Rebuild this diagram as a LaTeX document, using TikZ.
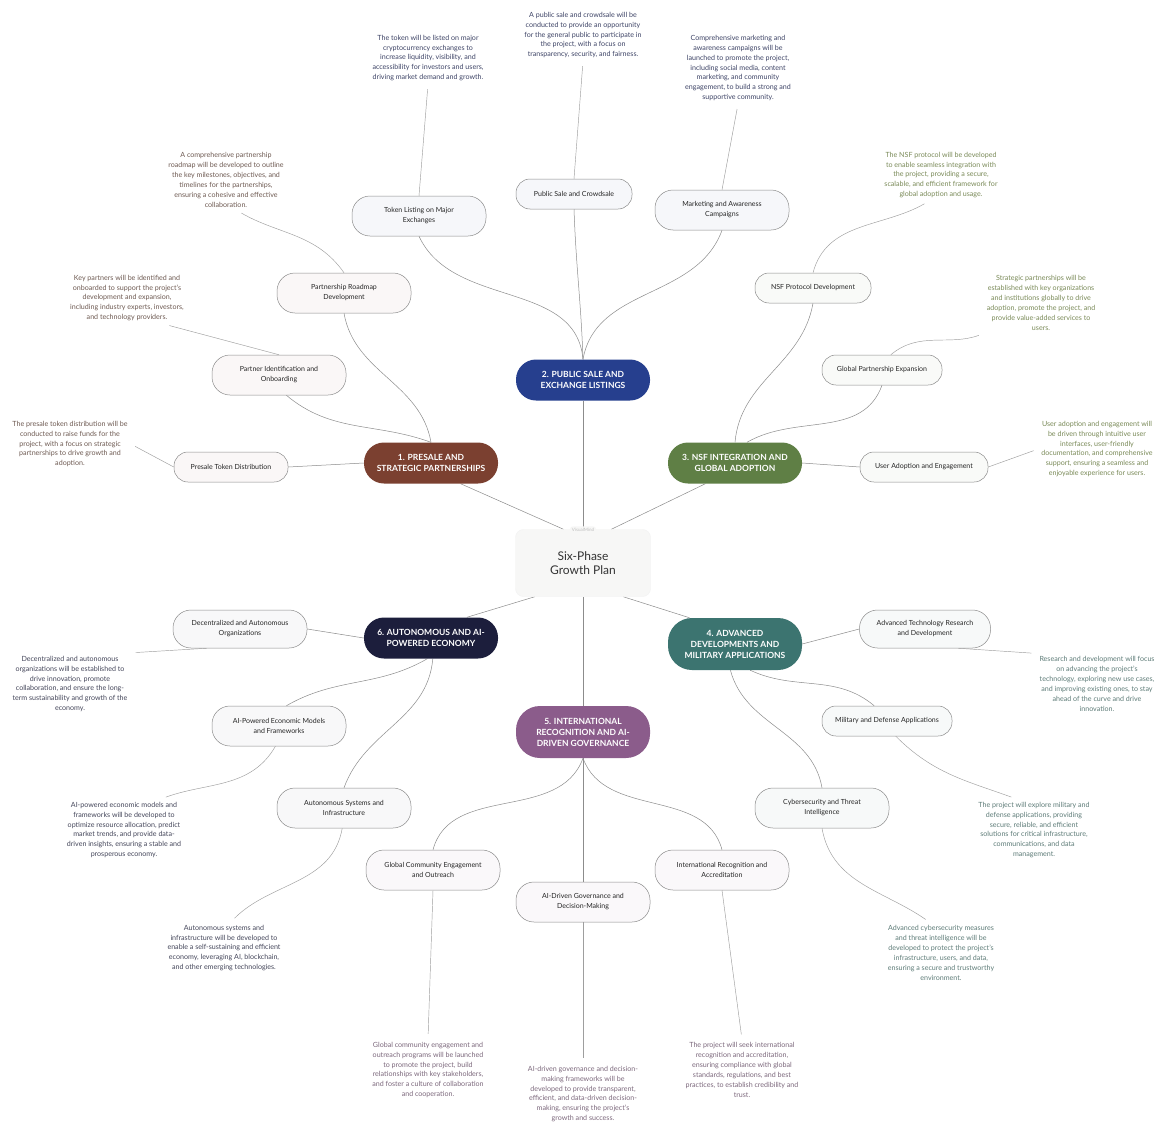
\documentclass[tikz,border=0pt]{standalone}
\usepackage{fontspec}
\setmainfont{Lato}
\usepackage{xcolor}
\usepackage{tikz}
\usetikzlibrary{positioning,backgrounds}
\definecolor{GPRoot}{HTML}{F7F7F6}
\definecolor{GPBrown}{HTML}{7B4030}
\definecolor{GPBlue}{HTML}{263F8E}
\definecolor{GPGreen}{HTML}{5F7F45}
\definecolor{GPTeal}{HTML}{3C7470}
\definecolor{GPPurple}{HTML}{8B5C8B}
\definecolor{GPNavy}{HTML}{1C1E3C}
\definecolor{GPBrownTxt}{HTML}{6E5A52}
\definecolor{GPBlueTxt}{HTML}{3E4466}
\definecolor{GPGreenTxt}{HTML}{7A8A58}
\definecolor{GPTealTxt}{HTML}{5E7C78}
\definecolor{GPPurpleTxt}{HTML}{7C687C}
\definecolor{GPNavyTxt}{HTML}{44465A}

\begin{document}
\begin{tikzpicture}[
  x=1pt,
  y=-1pt,
  root/.style={
    rounded corners=8pt,
    draw=black!5,
    fill=GPRoot,
    text=black!80,
    minimum width=135pt,
    minimum height=67pt,
    align=center,
    font=\fontsize{12}{14}\selectfont
  },
  brand/.style={
    rounded corners=3pt,
    fill=GPRoot,
    text=black!25,
    inner sep=2pt,
    font=\fontsize{4.5}{5}\selectfont
  },
  phase/.style={
    rounded corners=20pt,
    text=white,
    minimum width=134pt,
    minimum height=41pt,
    align=center,
    inner sep=2pt,
    font=\bfseries\fontsize{8.5}{11}\selectfont
  },
  tall/.style={minimum height=52pt, rounded corners=24pt},
  leaf/.style={
    rounded corners=18pt,
    draw=black!45,
    line width=0.5pt,
    text=black!85,
    minimum width=134pt,
    minimum height=40pt,
    align=center,
    inner sep=2pt,
    font=\fontsize{7}{10}\selectfont
  },
  single/.style={minimum height=30pt, rounded corners=14pt},
  note/.style={
    align=center,
    inner sep=3pt,
    font=\fontsize{7.1}{9.9}\selectfont
  },
  branch/.style={draw=black!45, line width=0.5pt},
  twig/.style={draw=black!38, line width=0.45pt, shorten >=5pt},
]
\useasboundingbox (0,0) rectangle (1156,1124);

\node[root] (root) at (583,563) {Six-Phase\\Growth Plan};
\node[brand] (root-brand) at (583,530) {VisualMind};

% phase 2
\node[phase,fill=GPBlue] (public) at (583,380) {2. PUBLIC SALE AND\\EXCHANGE LISTINGS};
\node[leaf,fill=GPBlue!4] (public-a) at (419,216) {Token Listing on Major\\Exchanges};
\node[leaf,single,fill=GPBlue!4,minimum width=116pt] (public-b) at (574,194) {Public Sale and Crowdsale};
\node[leaf,fill=GPBlue!4] (public-c) at (722,210) {Marketing and Awareness\\Campaigns};
\node[note,text=GPBlueTxt] (public-a-txt) at (428,58) {The token will be listed on major\\cryptocurrency exchanges to\\increase liquidity, visibility, and\\accessibility for investors and users,\\driving market demand and growth.};
\node[note,text=GPBlueTxt] (public-b-txt) at (583,35) {A public sale and crowdsale will be\\conducted to provide an opportunity\\for the general public to participate in\\the project, with a focus on\\transparency, security, and fairness.};
\node[note,text=GPBlueTxt] (public-c-txt) at (738,68) {Comprehensive marketing and\\awareness campaigns will be\\launched to promote the project,\\including social media, content\\marketing, and community\\engagement, to build a strong and\\supportive community.};

% phase 1
\node[phase,fill=GPBrown] (presale) at (431,463) {1. PRESALE AND\\STRATEGIC PARTNERSHIPS};
\node[leaf,fill=GPBrown!4] (presale-a) at (344,293) {Partnership Roadmap\\Development};
\node[leaf,fill=GPBrown!4] (presale-b) at (279,375) {Partner Identification and\\Onboarding};
\node[leaf,single,fill=GPBrown!4,minimum width=114pt] (presale-c) at (231,467) {Presale Token Distribution};
\node[note,text=GPBrownTxt] (presale-a-txt) at (226,180) {A comprehensive partnership\\roadmap will be developed to outline\\the key milestones, objectives, and\\timelines for the partnerships,\\ensuring a cohesive and effective\\collaboration.};
\node[note,text=GPBrownTxt] (presale-b-txt) at (127,298) {Key partners will be identified and\\onboarded to support the project's\\development and expansion,\\including industry experts, investors,\\and technology providers.};
\node[note,text=GPBrownTxt] (presale-c-txt) at (70,444) {The presale token distribution will be\\conducted to raise funds for the\\project, with a focus on strategic\\partnerships to drive growth and\\adoption.};

% phase 3
\node[phase,fill=GPGreen] (nsf) at (735,463) {3. NSF INTEGRATION AND\\GLOBAL ADOPTION};
\node[leaf,single,fill=GPGreen!4,minimum width=116pt] (nsf-a) at (813,288) {NSF Protocol Development};
\node[leaf,single,fill=GPGreen!4,minimum width=120pt] (nsf-b) at (882,370) {Global Partnership Expansion};
\node[leaf,single,fill=GPGreen!4,minimum width=128pt] (nsf-c) at (924,467) {User Adoption and Engagement};
\node[note,text=GPGreenTxt] (nsf-a-txt) at (941,175) {The NSF protocol will be developed\\to enable seamless integration with\\the project, providing a secure,\\scalable, and efficient framework for\\global adoption and usage.};
\node[note,text=GPGreenTxt] (nsf-b-txt) at (1041,303) {Strategic partnerships will be\\established with key organizations\\and institutions globally to drive\\adoption, promote the project, and\\provide value-added services to\\users.};
\node[note,text=GPGreenTxt] (nsf-c-txt) at (1097,449) {User adoption and engagement will\\be driven through intuitive user\\interfaces, user-friendly\\documentation, and comprehensive\\support, ensuring a seamless and\\enjoyable experience for users.};

% phase 4
\node[phase,tall,fill=GPTeal] (advanced) at (735,644) {4. ADVANCED\\DEVELOPMENTS AND\\MILITARY APPLICATIONS};
\node[leaf,fill=GPTeal!4,minimum width=131pt,minimum height=38pt] (advanced-a) at (925,629) {Advanced Technology Research\\and Development};
\node[leaf,single,fill=GPTeal!4,minimum width=130pt] (advanced-b) at (887,721) {Military and Defense Applications};
\node[leaf,fill=GPTeal!4] (advanced-c) at (822,808) {Cybersecurity and Threat\\Intelligence};
\node[note,text=GPTealTxt] (advanced-a-txt) at (1097,684) {Research and development will focus\\on advancing the project's\\technology, exploring new use cases,\\and improving existing ones, to stay\\ahead of the curve and drive\\innovation.};
\node[note,text=GPTealTxt] (advanced-b-txt) at (1034,830) {The project will explore military and\\defense applications, providing\\secure, reliable, and efficient\\solutions for critical infrastructure,\\communications, and data\\management.};
\node[note,text=GPTealTxt] (advanced-c-txt) at (941,953) {Advanced cybersecurity measures\\and threat intelligence will be\\developed to protect the project's\\infrastructure, users, and data,\\ensuring a secure and trustworthy\\environment.};

% phase 5
\node[phase,tall,fill=GPPurple] (recognition) at (583,732) {5. INTERNATIONAL\\RECOGNITION AND AI-\\DRIVEN GOVERNANCE};
\node[leaf,fill=GPPurple!4] (recognition-a) at (433,870) {Global Community Engagement\\and Outreach};
\node[leaf,fill=GPPurple!4] (recognition-b) at (583,902) {AI-Driven Governance and\\Decision-Making};
\node[leaf,fill=GPPurple!4] (recognition-c) at (722,870) {International Recognition and\\Accreditation};
\node[note,text=GPPurpleTxt] (recognition-a-txt) at (428,1070) {Global community engagement and\\outreach programs will be launched\\to promote the project, build\\relationships with key stakeholders,\\and foster a culture of collaboration\\and cooperation.};
\node[note,text=GPPurpleTxt] (recognition-b-txt) at (583,1094) {AI-driven governance and decision-\\making frameworks will be\\developed to provide transparent,\\efficient, and data-driven decision-\\making, ensuring the project's\\growth and success.};
\node[note,text=GPPurpleTxt] (recognition-c-txt) at (742,1070) {The project will seek international\\recognition and accreditation,\\ensuring compliance with global\\standards, regulations, and best\\practices, to establish credibility and\\trust.};

% phase 6
\node[phase,fill=GPNavy] (economy) at (431,638) {6. AUTONOMOUS AND AI-\\POWERED ECONOMY};
\node[leaf,fill=GPNavy!3,minimum width=134pt,minimum height=38pt] (economy-a) at (240,629) {Decentralized and Autonomous\\Organizations};
\node[leaf,fill=GPNavy!3] (economy-b) at (279,726) {AI-Powered Economic Models\\and Frameworks};
\node[leaf,fill=GPNavy!3] (economy-c) at (344,808) {Autonomous Systems and\\Infrastructure};
\node[note,text=GPNavyTxt] (economy-a-txt) at (70,684) {Decentralized and autonomous\\organizations will be established to\\drive innovation, promote\\collaboration, and ensure the long-\\term sustainability and growth of the\\economy.};
\node[note,text=GPNavyTxt] (economy-b-txt) at (124,830) {AI-powered economic models and\\frameworks will be developed to\\optimize resource allocation, predict\\market trends, and provide data-\\driven insights, ensuring a stable and\\prosperous economy.};
\node[note,text=GPNavyTxt] (economy-c-txt) at (224,948) {Autonomous systems and\\infrastructure will be developed to\\enable a self-sustaining and efficient\\economy, leveraging AI, blockchain,\\and other emerging technologies.};

\begin{scope}[on background layer]
  \fill[white] (0,0) rectangle (1156,1124);

  \draw[branch] (root) -- (public);
  \draw[branch] (public.north) to[out=95,in=-65] (public-a.south);
  \draw[branch] (public.north) to[out=92,in=-88] (public-b.south);
  \draw[branch] (public.north) to[out=80,in=-110] (public-c.south);
  \draw[twig] (public-a.north) -- (public-a-txt.south);
  \draw[twig] (public-b.north) -- (public-b-txt.south);
  \draw[twig] (public-c.north) -- (public-c-txt.south);

  \draw[branch] (root.120) -- (presale.-35);
  \draw[branch] (presale.north) to[out=100,in=-80] (presale-a.south);
  \draw[branch] (presale.north) to[out=160,in=-40] (presale-b.-70);
  \draw[branch] (presale.west) -- (presale-c.east);
  \draw[twig] (presale-a.north) to[out=125,in=-30] (presale-a-txt.-70);
  \draw[twig] (presale-b.north) -- (presale-b-txt.-35);
  \draw[twig] (presale-c.west) -- (presale-c-txt.east);

  \draw[branch] (root.50) -- (nsf.-145);
  \draw[branch] (nsf.north) to[out=85,in=-100] (nsf-a.south);
  \draw[branch] (nsf.60) to[out=30,in=-110] (nsf-b.south);
  \draw[branch] (nsf.east) -- (nsf-c.west);
  \draw[twig] (nsf-a.north) to[out=75,in=-150] (nsf-a-txt.-115);
  \draw[twig] (nsf-b.60) to[out=40,in=-160] (nsf-b-txt.south west);
  \draw[twig] (nsf-c.east) -- (nsf-c-txt.west);

  \draw[branch] (root.-40) -- (advanced.150);
  \draw[branch] (advanced.east) -- (advanced-a.west);
  \draw[branch] (advanced.-60) to[out=-25,in=140] (advanced-b.130);
  \draw[branch] (advanced.-100) to[out=-75,in=100] (advanced-c.north);
  \draw[twig] (advanced-a.-30) -- (advanced-a-txt.north west);
  \draw[twig] (advanced-b.-60) to[out=-45,in=160] (advanced-b-txt.120);
  \draw[twig] (advanced-c.south) to[out=-80,in=145] (advanced-c-txt.110);

  \draw[branch] (root) -- (recognition);
  \draw[branch] (recognition.south) to[out=-110,in=75] (recognition-a.north);
  \draw[branch] (recognition) -- (recognition-b);
  \draw[branch] (recognition.south) to[out=-70,in=105] (recognition-c.north);
  \draw[twig] (recognition-a.south) -- (recognition-a-txt.north);
  \draw[twig] (recognition-b.south) -- (recognition-b-txt.north);
  \draw[twig] (recognition-c.south) -- (recognition-c-txt.north);

  \draw[branch] (root.-145) -- (economy.30);
  \draw[branch] (economy.west) -- (economy-a.east);
  \draw[branch] (economy.-100) to[out=-150,in=30] (economy-b.70);
  \draw[branch] (economy.-85) to[out=-95,in=70] (economy-c.north);
  \draw[twig] (economy-a.-150) -- (economy-a-txt.north east);
  \draw[twig] (economy-b.-100) to[out=-120,in=20] (economy-b-txt.40);
  \draw[twig] (economy-c.-95) to[out=-100,in=45] (economy-c-txt.75);
\end{scope}
\end{tikzpicture}
\end{document}
